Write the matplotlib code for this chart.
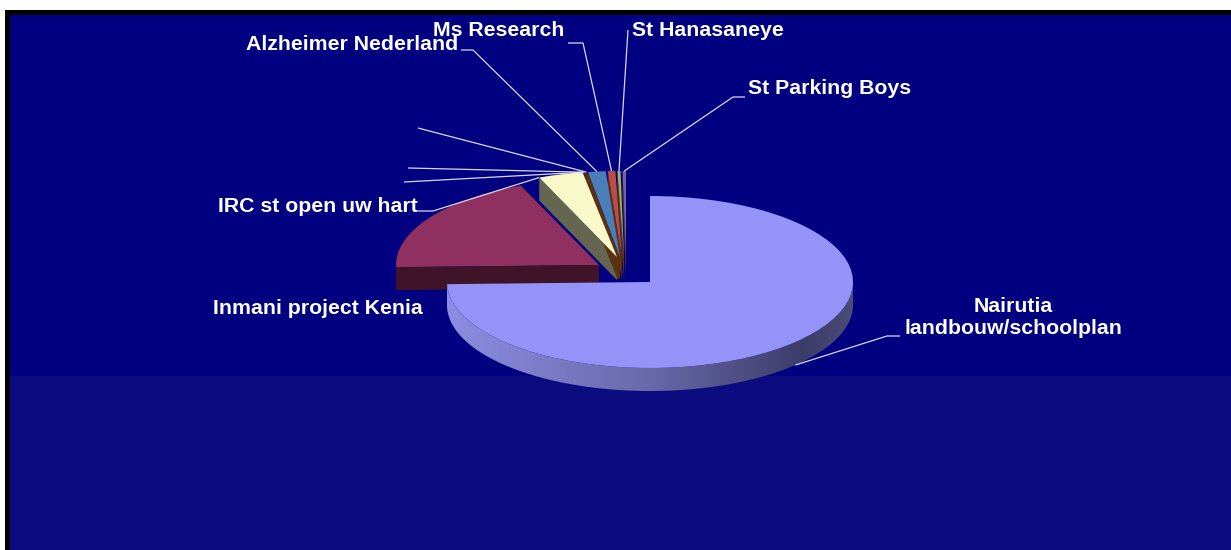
import numpy as np
import matplotlib
matplotlib.use("Agg")
import matplotlib.pyplot as plt
from matplotlib.patches import Wedge, Rectangle, Polygon
from matplotlib.transforms import Affine2D

# ---- data (percent shares, clockwise from 12 o'clock) ----
slice_names = ["Nairutia\nlandbouw/schoolplan", "Inmani project Kenia", "IRC st open uw hart",
               "", "", "", "Alzheimer Nederland", "Ms Research", "St Hanasaneye", "St Parking Boys"]
slice_values = [74.6, 19.1, 0.05, 3.53, 0.1, 0.1, 1.4, 0.6, 0.25, 0.27]

# ---- styling ----
top_colors = ["#9494F8", "#8F3060", "#14148a", "#F8F8C8", "#5a3010", "#5a3010",
              "#4A7EBB", "#BE4B48", "#98B954", "#7D60A0"]
wall_colors = ["#6a6aa8", "#3F1428", "#14148a", "#666650", "#5a3210", "#5a3210",
               "#5a3210", "#5a3210", "#5a3210", "#5a3210"]
top_order = [5, 1.9, 1.9, 3, 3, 3, 3, 3, 3, 3]
apex_x = [650, 599, 617, 617, 618, 619, 620, 622, 624, 626]
apex_y = [282, 265, 257, 257, 257, 257, 257, 257, 257, 257]
RX, RY, DEPTH = 203, 86, 23

fig = plt.figure(figsize=(12.31, 5.5), dpi=100, facecolor="white")
ax = fig.add_axes([0, 0, 1, 1])
ax.set_xlim(0, 1231)
ax.set_ylim(550, 0)
ax.axis("off")

# background panels
ax.add_patch(Rectangle((5, 10), 1226, 540, fc="black", ec="none", zorder=0))
ax.add_patch(Rectangle((10, 15), 1221, 361, fc="#000080", ec="none", zorder=0.1))
ax.add_patch(Rectangle((10, 376), 1221, 174, fc="#0C0C80", ec="none", zorder=0.1))


def rim(i, th, dy=0.0):
    t = np.radians(th)
    return apex_x[i] + RX * np.cos(t), apex_y[i] - RY * np.sin(t) + dy


ends = 90 - 3.6 * np.cumsum(slice_values)
starts = np.r_[90, ends[:-1]]

# radial walls + top faces of the pulled-out slices
for i in range(1, len(slice_values)):
    th = starts[i]
    x, y = rim(i, th)
    ax.add_patch(Polygon([(x, y), (apex_x[i], apex_y[i]),
                          (apex_x[i], apex_y[i] + DEPTH), (x, y + DEPTH)],
                         closed=True, fc=wall_colors[i], ec="none", zorder=2 + i * 0.01))
for i in range(1, len(slice_values)):
    tr = Affine2D().scale(RX, -RY).translate(apex_x[i], apex_y[i]) + ax.transData
    ax.add_patch(Wedge((0, 0), 1, ends[i], starts[i], fc=top_colors[i], ec="none",
                       transform=tr, zorder=top_order[i] + i * 0.001))

# main slice: shaded wall + top face
arc = np.linspace(180, 360, 200)
ax_pts = np.array([rim(0, a) for a in arc])
low_pts = ax_pts + [0, DEPTH]
wall = Polygon(np.vstack([ax_pts, low_pts[::-1]]), closed=True, fc="none", ec="none",
               transform=ax.transData, zorder=4)
ax.add_patch(wall)
grad = np.array([[141, 141, 226], [105, 105, 170], [60, 60, 105], [76, 76, 120]], dtype=float)
xs = np.linspace(0, 1, 400)
stops = [0, 0.5, 0.88, 1]
img = np.stack([np.interp(xs, stops, grad[:, c]) for c in range(3)], axis=-1)[None] / 255
im = ax.imshow(img, extent=(447, 853, 392, 280), aspect="auto", zorder=4.1)
im.set_clip_path(wall)
ax.set_xlim(0, 1231)
ax.set_ylim(550, 0)
tr0 = Affine2D().scale(RX, -RY).translate(apex_x[0], apex_y[0]) + ax.transData
ax.add_patch(Wedge((0, 0), 1, ends[0], starts[0], fc=top_colors[0], ec="none",
                   transform=tr0, zorder=5))

# label positions and leader lines
font = dict(family=["Liberation Sans", "DejaVu Sans"], weight="bold", fontsize=15.3, color="white", zorder=8)
ax.text(1013, 317.5, slice_names[0], ha="center", va="center", linespacing=1.25, **font)
ax.text(213, 309, slice_names[1], ha="left", va="center", **font)
ax.text(218, 206, slice_names[2], ha="left", va="center", **font)
ax.text(246, 44, slice_names[6], ha="left", va="center", **font)
ax.text(433, 31, slice_names[7], ha="left", va="center", **font)
ax.text(632, 31, slice_names[8], ha="left", va="center", **font)
ax.text(748, 88, slice_names[9], ha="left", va="center", **font)

label_paths = {
    0: [(900, 336), (887, 336)],
    2: [(418, 211), (433, 211)],
    3: [(404, 182)],
    4: [(408, 168)],
    5: [(418, 128)],
    6: [(461, 50), (473, 50)],
    7: [(568, 43), (583, 43)],
    8: [(628, 30)],
    9: [(745, 97), (733, 97)],
}
anchor_frac = {3: 1.0}
for i, pts in label_paths.items():
    f = anchor_frac.get(i, 0.5)
    th = starts[i] + (ends[i] - starts[i]) * f
    x, y = rim(i, th, DEPTH if i == 0 else 0)
    px = [p[0] for p in pts] + [x]
    py = [p[1] for p in pts] + [y]
    ax.plot(px, py, color="#d8d8e8", lw=0.9, zorder=7, solid_capstyle="butt")

fig.savefig("out.png", dpi=100, facecolor="white")
